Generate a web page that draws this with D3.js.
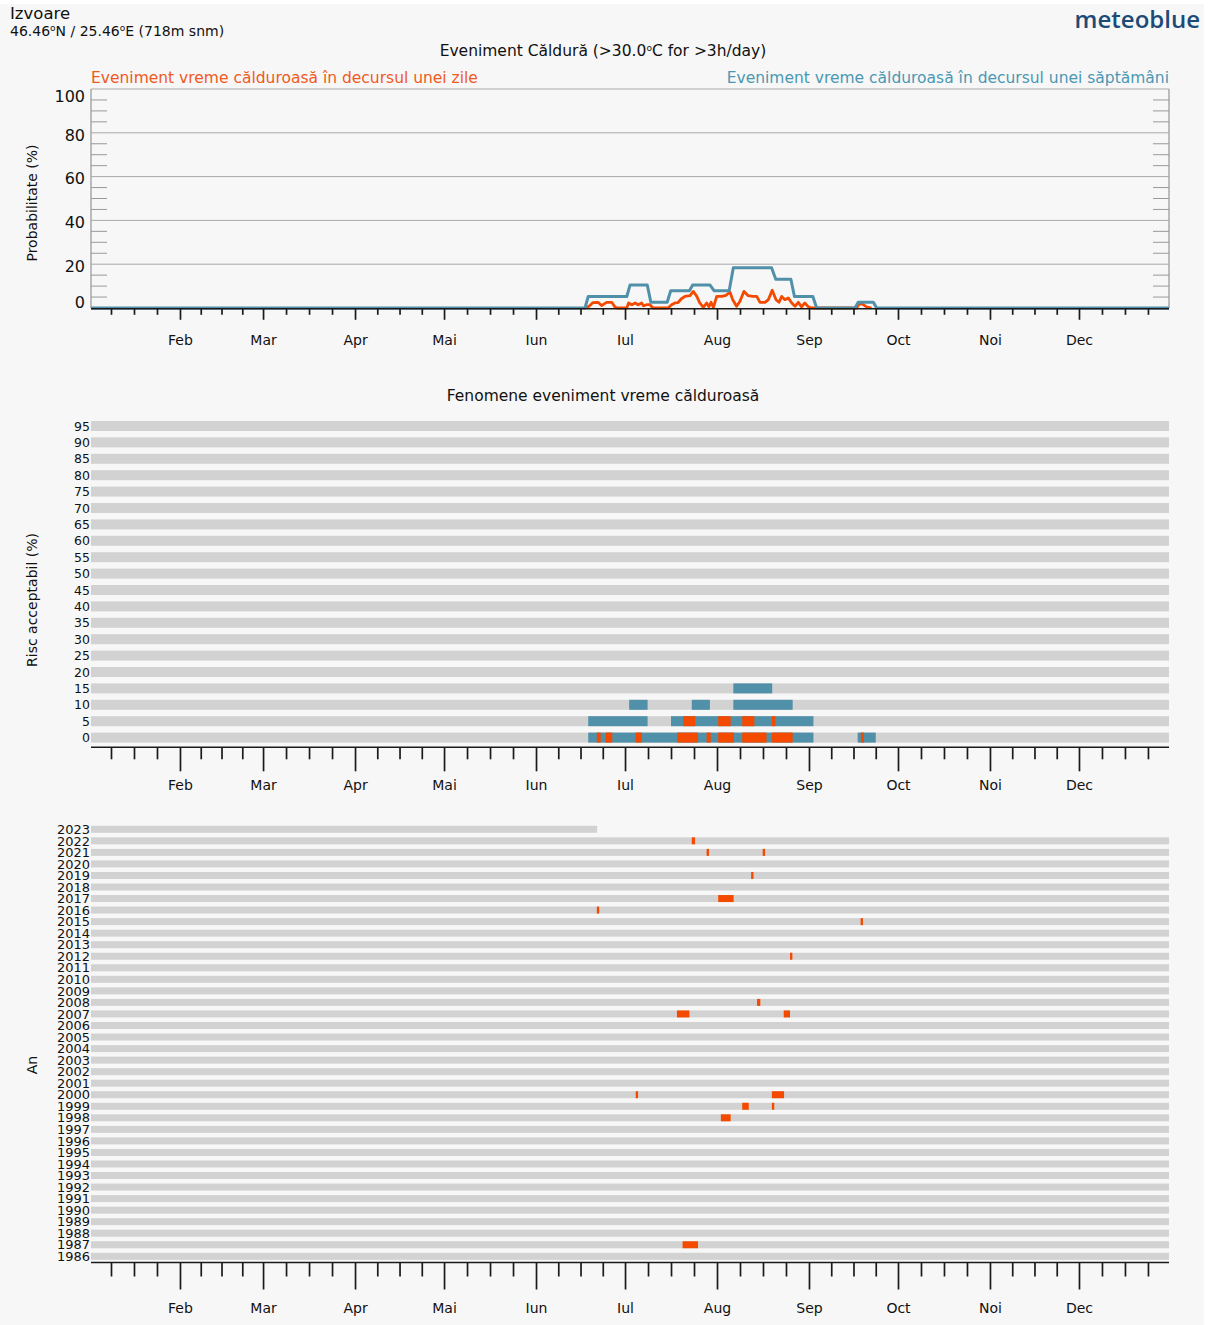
<!DOCTYPE html>
<html><head><meta charset="utf-8">
<script src="https://cdn.jsdelivr.net/npm/d3@7"></script>
<style>body{margin:0;background:#fff} text{font-family:"DejaVu Sans",sans-serif;fill:#111}</style>
</head><body><svg id="c" width="1212" height="1325"></svg>
<script>
// ---------------- DATA ----------------
const monthNames = ["Ian","Feb","Mar","Apr","Mai","Iun","Iul","Aug","Sep","Oct","Noi","Dec"];
const monthDays = [31,28,31,30,31,30,31,31,30,31,30,31];
const probTicks = [0,20,40,60,80,100];

// weekly heat event probability (%), x = day of year (0 = 1 Jan)
const weeklyDays = [0,167.5,168.6,181.6,182.7,188.5,189.7,195.2,196.4,202.7,203.8,209.6,211.0,216.1,217.5,230.4,231.8,236.9,238.1,244.3,245.6,258.5,259.6,264.7,265.8,365];
const weeklyVals = [0,0,5.26,5.26,10.53,10.53,2.63,2.63,7.89,7.89,10.53,10.53,7.89,7.89,18.42,18.42,13.16,13.16,5.26,5.26,0,0,2.63,2.63,0,0];

// daily heat event probability (%)
const dailyDays = [167.5,168.9,170.2,171.9,173.1,174.8,176.5,177.6,178.3,181.6,182.2,183.3,184.4,185.4,186.6,187.2,188.3,189.4,190.4,195.5,196.7,197.8,198.9,199.9,201.2,202.9,204.0,205.2,206.2,207.4,208.5,209.3,210.0,210.8,211.9,213.6,215.0,216.4,217.3,218.6,219.7,221.1,222.5,224.0,225.4,226.5,228.2,229.3,230.6,231.9,232.9,233.8,234.9,236.0,237.2,238.3,239.4,240.5,241.6,242.8,243.9,259.1,259.7,260.8,262.4,264.1];
const dailyVals = [0,0.8,2.5,2.6,1.1,2.6,2.6,0.5,0,0,2.3,1.5,2.3,1.5,2.3,1.0,1.5,1.5,0,0,1.5,2.3,2.5,4.1,5.3,5.6,7.6,5.3,2.3,0.3,2.3,0.6,2.6,0.3,5.3,5.3,5.8,7.2,3.8,0.8,3.0,7.6,5.6,5.3,5.3,2.6,2.6,3.8,8.1,3.8,2.6,5.3,3.8,4.6,2.3,0.8,2.6,0.5,2.3,0.5,0,0,1.5,2.0,0.5,0];

// acceptable risk levels (%)
const riskLevels = [95,90,85,80,75,70,65,60,55,50,45,40,35,30,25,20,15,10,5,0];
// [level, fromDay, toDay]
const riskWeekly = [[15,217.5,230.6],[10,182.4,188.6],[10,203.5,209.6],[10,217.5,237.5],[5,168.6,188.6],[5,196.5,244.5],[0,168.6,244.5],[0,259.4,265.5]];
const riskDaily = [[5,200.6,204.6],[5,212.4,216.6],[5,220.5,224.6],[5,230.5,231.6],[0,171.5,172.8],[0,174.5,176.7],[0,184.6,186.6],[0,198.6,205.6],[0,208.5,209.9],[0,212.4,217.7],[0,220.5,228.7],[0,230.5,237.5],[0,260.5,261.5]];

// years
const years = d3.range(2023, 1985, -1);
const year2023End = 171.6;
// [year, fromDay, toDay]
const yearEvents = [[2022,203.5,204.6],[2021,208.5,209.3],[2021,227.4,228.2],[2019,223.5,224.3],[2017,212.4,217.6],[2016,171.5,172.3],[2015,260.4,261.2],[2012,236.6,237.4],[2008,225.5,226.6],[2007,198.5,202.7],[2007,234.5,236.6],[2000,184.6,185.4],[2000,230.5,234.6],[1999,220.5,222.7],[1999,230.5,231.3],[1998,213.3,216.6],[1987,200.4,205.6]];

// ---------------- STYLE ----------------
const ORANGE = "#f34a00", BLUE = "#5090a8", GREY = "#d2d2d2", BG = "#f7f7f7";
const L = 91, R = 1169;

const svg = d3.select("#c");
svg.append("rect").attr("x",0).attr("y",4).attr("width",1204).attr("height",1321).attr("fill",BG);

const x = d3.scaleLinear().domain([0,365]).range([88, 88 + 365*2.967]);
svg.append("defs").append("clipPath").attr("id","clipX").append("rect").attr("x",L).attr("y",0).attr("width",R-L).attr("height",1325);

// month ticks
const monthStarts = Array.from(d3.cumsum([0].concat(monthDays.slice(0,11))));
const majorVals = monthStarts.filter(d => x(d) >= L && x(d) <= R);
const minorVals = [];
monthStarts.forEach((s,i)=>{ const n = monthDays[i]; [n/4,n/2,3*n/4].forEach(f=>{ if (x(s+f)>=L && x(s+f)<=R) minorVals.push(s+f); }); });

function drawXAxis(axisY, minorLen, majorLen, labelY) {
  const gMin = svg.append("g").attr("transform",`translate(0,${axisY})`)
    .call(d3.axisBottom(x).tickValues(minorVals).tickSize(minorLen).tickFormat(""));
  const gMaj = svg.append("g").attr("transform",`translate(0,${axisY})`)
    .call(d3.axisBottom(x).tickValues(majorVals).tickSize(majorLen)
      .tickFormat(d => monthNames[monthStarts.indexOf(d)]));
  [gMin,gMaj].forEach(g=>{ g.select(".domain").remove();
    g.selectAll(".tick line").attr("stroke","#1a1a1a").attr("stroke-width",1.7); });
  gMaj.selectAll(".tick text").attr("y", labelY-axisY).attr("dy","0.35em")
    .style("font-size","14px").style("font-family","DejaVu Sans").attr("fill","#111");
  svg.append("line").attr("x1",L).attr("x2",R).attr("y1",axisY).attr("y2",axisY)
    .attr("stroke","#1a1a1a").attr("stroke-width",1.5);
}

// ---------------- HEADER ----------------
svg.append("text").attr("x",10).attr("y",19).style("font-size","16.5px").text("Izvoare");
const coord = svg.append("text").attr("x",10).attr("y",36).style("font-size","14px");
coord.append("tspan").text("46.46");
coord.append("tspan").attr("dy",-5).style("font-size","9px").text("o");
coord.append("tspan").attr("dy",5).text("N / 25.46");
coord.append("tspan").attr("dy",-5).style("font-size","9px").text("o");
coord.append("tspan").attr("dy",5).text("E (718m snm)");
svg.append("text").attr("x",1200).attr("y",28).attr("text-anchor","end")
  .style("font-family","'Open Sans',sans-serif").style("font-weight","600").style("font-size","24px")
  .style("fill","#1d4b78").text("meteoblue");

const title = svg.append("text").attr("x",603).attr("y",56).attr("text-anchor","middle").style("font-size","15.5px");
title.append("tspan").text("Eveniment Căldură (>30.0");
title.append("tspan").attr("dy",-5).style("font-size","9px").text("o");
title.append("tspan").attr("dy",5).text("C for >3h/day)");

svg.append("text").attr("x",L).attr("y",83).style("font-size","15.5px").style("fill","#f05a1e").text("Eveniment vreme călduroasă în decursul unei zile");
svg.append("text").attr("x",R).attr("y",83).attr("text-anchor","end").style("font-size","15.5px").style("fill","#4b97b3").text("Eveniment vreme călduroasă în decursul unei săptămâni");

// ---------------- TOP CHART ----------------
const yTop = d3.scaleLinear().domain([0,100]).range([308,89]);
const gridC = "#a8a8a8";
probTicks.filter(v=>v>0).forEach(v=>{
  svg.append("line").attr("x1",L).attr("x2",R).attr("y1",yTop(v)).attr("y2",yTop(v)).attr("stroke",gridC).attr("stroke-width",1);
});
svg.append("line").attr("x1",L).attr("x2",L).attr("y1",yTop(100)).attr("y2",yTop(0)).attr("stroke",gridC).attr("stroke-width",1.5);
svg.append("line").attr("x1",R).attr("x2",R).attr("y1",yTop(100)).attr("y2",yTop(0)).attr("stroke",gridC).attr("stroke-width",1.5);
d3.range(5,100,5).filter(v=>v%20!==0).forEach(v=>{
  svg.append("line").attr("x1",L).attr("x2",L+16).attr("y1",yTop(v)).attr("y2",yTop(v)).attr("stroke","#999").attr("stroke-width",1);
  svg.append("line").attr("x1",R-16).attr("x2",R).attr("y1",yTop(v)).attr("y2",yTop(v)).attr("stroke","#999").attr("stroke-width",1);
});
const yAx = svg.append("g").attr("transform",`translate(${L-6},0)`)
  .call(d3.axisLeft(yTop).tickValues(probTicks).tickSize(0).tickPadding(0).tickFormat(d3.format("d")));
yAx.select(".domain").remove();
yAx.selectAll(".tick text").style("font-size","16px").style("font-family","DejaVu Sans").attr("fill","#111")
  .attr("dy", d => d===0 ? "-0.05em" : d===100 ? "0.78em" : "0.46em");
svg.append("text").attr("transform","translate(37,203) rotate(-90)").attr("text-anchor","middle").style("font-size","14px").text("Probabilitate (%)");

const dailyPts = dailyDays.map((d,i)=>[d,dailyVals[i]]);
const weeklyPts = weeklyDays.map((d,i)=>[d,weeklyVals[i]]);
const line = d3.line().x(d=>x(d[0])).y(d=>yTop(d[1]));
const gl = svg.append("g").attr("clip-path","url(#clipX)");
gl.append("path").datum(dailyPts).attr("d",line).attr("fill","none").attr("stroke",ORANGE).attr("stroke-width",2.8).attr("stroke-linejoin","round");
gl.append("path").datum(weeklyPts).attr("d",line).attr("fill","none").attr("stroke",BLUE).attr("stroke-width",3).attr("stroke-linejoin","round");
drawXAxis(308.8, 6, 11, 340);

// ---------------- MIDDLE CHART ----------------
svg.append("text").attr("x",603).attr("y",401).attr("text-anchor","middle").style("font-size","15.5px").text("Fenomene eveniment vreme călduroasă");
const yRisk = d3.scalePoint().domain(riskLevels).range([426, 737.6]);
const BH = 10;
svg.append("g").selectAll("rect").data(riskLevels).join("rect")
  .attr("x",L).attr("width",R-L).attr("y",d=>yRisk(d)-BH/2).attr("height",BH).attr("fill",GREY);
svg.append("g").selectAll("text").data(riskLevels).join("text")
  .attr("x",90).attr("y",d=>yRisk(d)).attr("dy","0.36em").attr("text-anchor","end").style("font-size","12.5px").text(d=>d);
const gm = svg.append("g").attr("clip-path","url(#clipX)");
gm.selectAll("rect.w").data(riskWeekly).join("rect").attr("class","w")
  .attr("x",d=>x(d[1])).attr("width",d=>x(d[2])-x(d[1])).attr("y",d=>yRisk(d[0])-BH/2).attr("height",BH).attr("fill",BLUE);
gm.selectAll("rect.d").data(riskDaily).join("rect").attr("class","d")
  .attr("x",d=>x(d[1])).attr("width",d=>x(d[2])-x(d[1])).attr("y",d=>yRisk(d[0])-BH/2).attr("height",BH).attr("fill",ORANGE);
svg.append("text").attr("transform","translate(37,600) rotate(-90)").attr("text-anchor","middle").style("font-size","14px").text("Risc acceptabil (%)");
drawXAxis(747.3, 12, 24, 785);

// ---------------- BOTTOM CHART ----------------
const yYear = d3.scalePoint().domain(years).range([829.3, 1256.3]);
const YH = 7;
svg.append("g").selectAll("rect").data(years).join("rect")
  .attr("x",L).attr("width",d=> d===2023 ? x(year2023End)-L : R-L)
  .attr("y",d=>yYear(d)-YH/2).attr("height",YH).attr("fill",GREY);
svg.append("g").selectAll("text").data(years).join("text")
  .attr("x",90).attr("y",d=>yYear(d)).attr("dy","0.36em").attr("text-anchor","end").style("font-size","13px").text(d=>d);
svg.append("g").attr("clip-path","url(#clipX)").selectAll("rect").data(yearEvents).join("rect")
  .attr("x",d=>x(d[1])).attr("width",d=>x(d[2])-x(d[1])).attr("y",d=>yYear(d[0])-YH/2).attr("height",YH).attr("fill",ORANGE);
svg.append("text").attr("transform","translate(37,1065) rotate(-90)").attr("text-anchor","middle").style("font-size","14px").text("An");
drawXAxis(1262.5, 14, 27, 1308);
</script></body></html>
